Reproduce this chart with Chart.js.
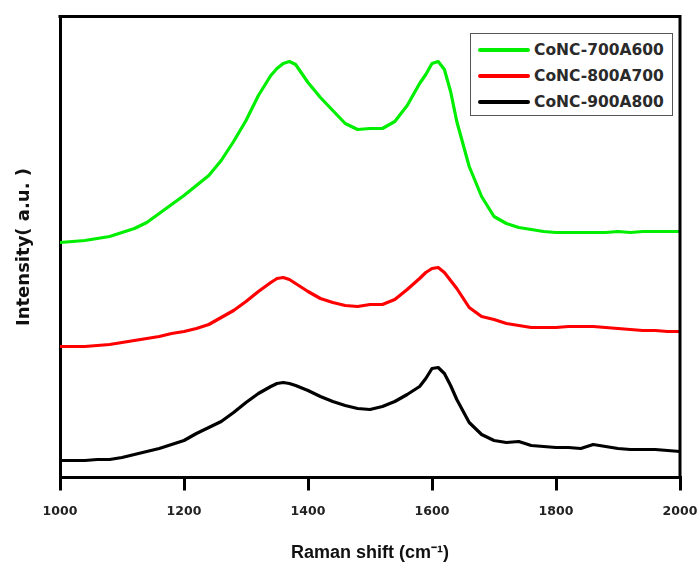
<!DOCTYPE html>
<html>
<head>
<meta charset="utf-8">
<script src="https://cdn.jsdelivr.net/npm/chart.js@4.4.1/dist/chart.umd.min.js"></script>
<style>
  html, body { margin: 0; padding: 0; background: #fff; }
  #wrap { position: relative; width: 699px; height: 568px; }
  #c { position: absolute; left: 0; top: 0; }
  #legend {
    position: absolute; box-sizing: border-box;
    border: 1.5px solid #555; background: #fff;
    padding-top: 3px;
  }
  #legend .row { display: flex; align-items: center; height: 26px; white-space: nowrap; }
  #legend .ln { width: 52px; height: 4px; margin-left: 7px; margin-right: 4px; border-radius: 2px; }
  #legend .tx { font: bold 15.5px "DejaVu Sans", sans-serif; color: #2a2a2a; }
</style>
</head>
<body>
<div id="wrap">
  <canvas id="c" width="699" height="568"></canvas>
  <div id="legend"></div>
</div>
<script>
// ---- data ----
const wavenumbers = [1000,1020,1040,1060,1080,1100,1120,1140,1160,1180,1200,1220,1240,1260,1280,1300,1320,1340,1350,1360,1370,1380,1400,1420,1440,1460,1480,1500,1520,1540,1560,1580,1590,1600,1610,1620,1630,1640,1660,1680,1700,1720,1740,1760,1780,1800,1820,1840,1860,1880,1900,1920,1940,1960,1980,2000];
const seriesNames = ["CoNC-700A600", "CoNC-800A700", "CoNC-900A800"];
const conc700A600 = [238,239,240,242,244,248,252,258,267,276,285,295,305,320,339,360,385,405,412,417,419,416,398,383,370,357,351,352,352,359,375,397,406,417,419,411,389,359,314,284,264,257,253,251,249,248,248,248,248,248,249,248,249,249,249,249];
const conc800A700 = [134,134,134,135,136,138,140,142,144,147,149,152,156,163,170,179,189,198,202,203,201,197,189,182,178,175,174,176,176,181,191,202,208,212,213,208,200,192,173,164,161,157,155,153,153,153,154,154,154,153,152,151,150,150,149,149];
const conc900A800 = [20,20,20,21,21,23,26,29,32,36,40,47,53,59,68,78,87,94,97,98,97,95,90,84,79,75,72,71,74,79,86,94,102,112,113,107,95,81,58,46,40,38,39,35,34,33,33,32,36,34,32,31,31,31,30,29];
const xTicks = [1000,1200,1400,1600,1800,2000];
const xTitle = "Raman shift (cm\u207B\u00B9)";
const yTitle = "Intensity( a.u. )";
const seriesColors = ["#00ee00", "#ff0000", "#000000"];

const toPoints = (ys) => wavenumbers.map((x, i) => ({ x: x, y: ys[i] }));

const framePlugin = {
  id: 'frame',
  afterDatasetsDraw(chart) {
    const { ctx, chartArea: a } = chart;
    ctx.save();
    ctx.strokeStyle = '#000';
    ctx.lineWidth = 3;
    ctx.beginPath();
    ctx.moveTo(a.left - 1.5, a.top);
    ctx.lineTo(a.right, a.top);
    ctx.lineTo(a.right, a.bottom + 1.5);
    ctx.stroke();
    ctx.restore();
  }
};

const htmlLegendPlugin = {
  id: 'htmlLegend',
  afterUpdate(chart) {
    const box = document.getElementById('legend');
    const a = chart.chartArea;
    box.style.left = (a.right - 210) + 'px';
    box.style.top = (a.top + 16) + 'px';
    box.style.width = '203px';
    box.style.height = '83px';
    box.innerHTML = '';
    chart.data.datasets.forEach((ds) => {
      const row = document.createElement('div');
      row.className = 'row';
      const ln = document.createElement('div');
      ln.className = 'ln';
      ln.style.background = ds.borderColor;
      const tx = document.createElement('span');
      tx.className = 'tx';
      tx.textContent = ds.label;
      row.appendChild(ln);
      row.appendChild(tx);
      box.appendChild(row);
    });
  }
};

new Chart(document.getElementById('c'), {
  type: 'line',
  data: {
    datasets: [
      { label: seriesNames[0], data: toPoints(conc700A600), borderColor: seriesColors[0] },
      { label: seriesNames[1], data: toPoints(conc800A700), borderColor: seriesColors[1] },
      { label: seriesNames[2], data: toPoints(conc900A800), borderColor: seriesColors[2] }
    ]
  },
  options: {
    responsive: false,
    animation: false,
    devicePixelRatio: 1,
    layout: { padding: { left: 0, top: 16.5, right: 19, bottom: 0 } },
    elements: {
      point: { radius: 0 },
      line: { borderWidth: 3.2, tension: 0, borderJoinStyle: 'round', borderCapStyle: 'round' }
    },
    plugins: {
      legend: { display: false },
      tooltip: { enabled: false }
    },
    scales: {
      x: {
        type: 'linear',
        min: 1000, max: 2000,
        afterBuildTicks: (scale) => { scale.ticks = xTicks.map(v => ({ value: v })); },
        afterFit: (scale) => { scale.height = 90.5; scale.paddingLeft = 0; scale.paddingRight = 0; },
        border: { display: true, color: '#000', width: 3 },
        grid: { display: true, drawOnChartArea: false, drawTicks: true, tickLength: 13, lineWidth: 3, color: '#000' },
        ticks: {
          padding: 14,
          color: '#222',
          font: { family: '"DejaVu Sans", sans-serif', size: 12.5, weight: 'bold' },
          maxRotation: 0,
          callback: (v) => String(v)
        },
        title: {
          display: true,
          text: xTitle,
          color: '#111',
          font: { family: '"Liberation Sans", Arial, sans-serif', size: 18, weight: 'bold' },
          padding: { top: 0, bottom: 4 }
        }
      },
      y: {
        type: 'linear',
        min: 3, max: 464,
        afterFit: (scale) => { scale.width = 60; },
        border: { display: true, color: '#000', width: 3 },
        grid: { display: true, drawOnChartArea: false, drawTicks: false },
        ticks: { display: false },
        title: {
          display: true,
          text: yTitle,
          color: '#111',
          font: { family: '"DejaVu Sans", sans-serif', size: 18, weight: 'bold' },
          padding: { top: 14, bottom: 0 }
        }
      }
    }
  },
  plugins: [framePlugin, htmlLegendPlugin]
});
</script>
</body>
</html>
